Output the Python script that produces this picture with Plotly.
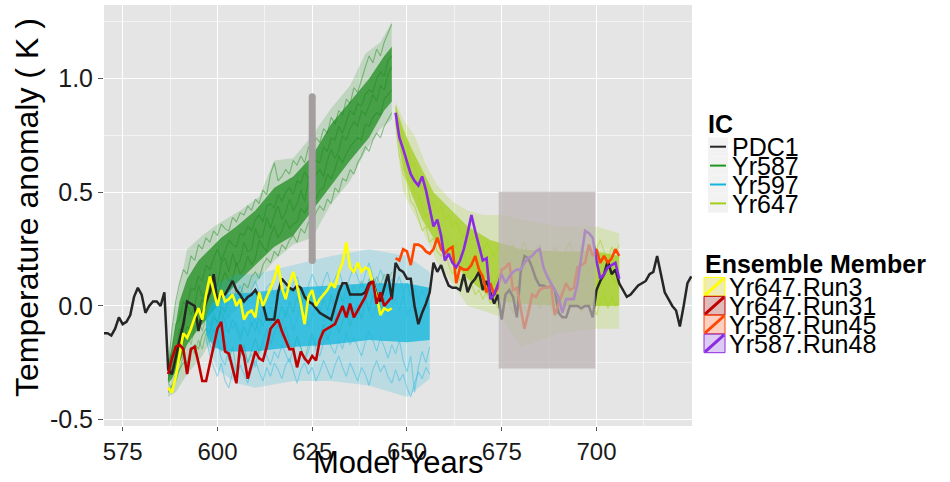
import plotly.graph_objects as go

# ------------------------------------------------------------------ data
ic_names = ["PDC1", "Yr587", "Yr597", "Yr647"]
ic_colors = ["#262626", "#1f951f", "#12b6dc", "#a3cf1c"]
member_names = ["Yr647.Run3", "Yr647.Run31", "Yr587.Run45", "Yr587.Run48"]
member_colors = ["#ffff00", "#c00000", "#ff4500", "#8a2be2"]
member_fills = ["rgba(235,232,170,0.85)", "rgba(205,140,140,0.6)",
                "rgba(250,160,130,0.5)", "rgba(180,140,230,0.45)"]
x_ticks = [575, 600, 625, 650, 675, 700]
y_ticks = [-0.5, 0.0, 0.5, 1.0]
y_tick_text = ["-0.5", "0.0", "0.5", "1.0"]

# control run, annual from 570
pdc1_start = 570
pdc1 = [-0.12, -0.12, -0.13, -0.10, -0.05, -0.08, -0.07, -0.04, 0.04, 0.08,
        0.05, -0.03, 0.00, 0.02, 0.02, 0.00, 0.06, -0.28, -0.30, -0.22,
        -0.15, -0.08, 0.02, 0.01, 0.00, -0.11, -0.03, 0.02, 0.06, 0.14,
        0.02, 0.05, 0.05, 0.08, 0.11, 0.07, 0.05, 0.02, 0.04, 0.05,
        0.07, 0.04, 0.01, -0.06, -0.06, -0.06, 0.06, 0.12, 0.10, 0.08,
        0.07, 0.09, 0.08, 0.04, 0.02, 0.01, -0.01, -0.03, -0.04, -0.05,
        -0.06, 0.00, 0.06, 0.10, 0.10, 0.05, 0.05, 0.05, 0.05, 0.06,
        0.10, 0.11, 0.05, 0.02, 0.08, 0.14, 0.03, 0.19, 0.16, 0.15,
        0.12, 0.12, 0.00, -0.08, -0.03, 0.01, 0.06, 0.19, 0.15, 0.18,
        0.13, 0.09, 0.08, 0.08, 0.07, 0.14, 0.06, 0.10, 0.12, 0.15,
        0.07, 0.11, 0.06, 0.01, 0.05, -0.06, 0.05, 0.07, 0.04, -0.05,
        0.15, 0.22, 0.21, 0.17, 0.12, 0.09, 0.09, 0.08, 0.09, 0.07,
        -0.03, -0.05, -0.05, 0.00, 0.00, 0.00, -0.01, 0.00, 0.00, -0.05,
        0.07, 0.11, 0.14, 0.20, 0.14, 0.16, 0.10, 0.07, 0.04, 0.05,
        0.07, 0.09, 0.10, 0.11, 0.14, 0.15, 0.22, 0.14, 0.06, 0.03,
        0.00, -0.02, -0.09, 0.00, 0.10, 0.13]

# highlighted ensemble members
run3_start = 587
run3 = [-0.36, -0.38, -0.31, -0.22, -0.12, -0.14, -0.10, -0.05, -0.01, -0.06,
        0.05, 0.13, 0.06, 0.00, 0.07, 0.02, 0.03, 0.05, 0.00, 0.03,
        -0.06, -0.03, -0.02, -0.05, 0.06, 0.00, 0.04, 0.08, 0.12, 0.18,
        0.08, 0.03, 0.10, 0.15, 0.09, 0.01, -0.08, 0.04, 0.07, 0.00,
        0.03, 0.05, 0.07, 0.10, 0.08, 0.15, 0.19, 0.28, 0.17, 0.15,
        0.19, 0.15, 0.17, 0.16, 0.10, 0.04, -0.04, -0.01, -0.02, -0.01]
run31_start = 587
run31 = [-0.30, -0.23, -0.18, -0.17, -0.19, -0.30, -0.19, -0.18, -0.25, -0.33,
         -0.33, -0.25, -0.18, -0.10, -0.07, -0.20, -0.21, -0.27, -0.34, -0.17,
         -0.22, -0.32, -0.26, -0.20, -0.23, -0.24, -0.18, -0.10, -0.08, -0.06,
         -0.11, -0.15, -0.19, -0.19, -0.27, -0.20, -0.23, -0.25, -0.22, -0.24,
         -0.15, -0.11, -0.10, -0.09, -0.08, -0.04, 0.00, -0.05, 0.01, -0.05,
         -0.02, 0.01, 0.04, 0.09, 0.11, 0.01, 0.06, 0.00, 0.02, 0.04]
run45_start = 647
run45 = [0.21, 0.20, 0.25, 0.24, 0.18, 0.27, 0.27, 0.26, 0.24, 0.23,
         0.25, 0.30, 0.25, 0.23, 0.25, 0.26, 0.10, 0.17, 0.16, 0.16,
         0.18, 0.22, 0.16, 0.13, 0.06, 0.10, 0.05, 0.08, 0.16, 0.17,
         0.19, 0.07, 0.08, -0.02, -0.10, -0.03, 0.05, 0.04, 0.07, 0.08,
         0.08, 0.09, -0.04, 0.01, 0.06, 0.10, 0.07, 0.08, 0.17, 0.18,
         0.19, 0.27, 0.22, 0.25, 0.19, 0.22, 0.19, 0.21, 0.25, 0.22]
run48_start = 647
run48 = [0.85, 0.74, 0.69, 0.63, 0.58, 0.55, 0.53, 0.57, 0.51, 0.43,
         0.35, 0.38, 0.31, 0.20, 0.23, 0.19, 0.17, 0.20, 0.25, 0.32,
         0.40, 0.33, 0.27, 0.20, 0.21, 0.03, 0.05, 0.10, 0.14, 0.10,
         0.13, 0.15, 0.16, 0.16, 0.19, 0.21, 0.22, 0.24, 0.25, 0.17,
         0.13, 0.10, 0.07, 0.04, -0.03, 0.03, 0.03, 0.03, 0.10, 0.22,
         0.33, 0.32, 0.30, 0.20, 0.12, 0.14, 0.17, 0.18, 0.19, 0.12]

# Yr587 ensemble: spread (outer / dense core) and individual members
g_core_years = [587, 588, 590, 592, 595, 598, 601, 605, 610, 615, 620, 625, 630, 635, 640, 644, 646]
g_core_lo = [-0.34, -0.32, -0.25, -0.17, -0.10, -0.04, 0.02, 0.10, 0.18, 0.26, 0.31, 0.42, 0.53, 0.64, 0.74, 0.86, 0.90]
g_core_hi = [-0.26, -0.18, 0.02, 0.12, 0.20, 0.25, 0.30, 0.35, 0.42, 0.52, 0.57, 0.66, 0.80, 0.90, 1.00, 1.10, 1.14]
g_out_years = [587, 589, 592, 596, 600, 606, 611, 615, 620, 625, 630, 635, 639, 643, 646]
g_out_lo = [-0.40, -0.38, -0.30, -0.22, -0.10, 0.00, 0.12, 0.20, 0.27, 0.30, 0.45, 0.55, 0.68, 0.78, 0.82]
g_out_hi = [-0.22, 0.00, 0.25, 0.31, 0.36, 0.42, 0.48, 0.64, 0.65, 0.75, 0.87, 0.97, 1.11, 1.16, 1.25]
g_start = 587
g_members = [
    [-0.31, -0.29, -0.26, -0.17, -0.16, -0.09, -0.11, -0.03, -0.02, 0.03,
     -0.01, 0.06, 0.08, 0.04, 0.10, 0.15, 0.11, 0.12, 0.19, 0.14,
     0.16, 0.22, 0.18, 0.21, 0.29, 0.26, 0.24, 0.31, 0.35, 0.30,
     0.33, 0.38, 0.34, 0.36, 0.37, 0.43, 0.41, 0.44, 0.50, 0.47,
     0.51, 0.52, 0.58, 0.56, 0.60, 0.66, 0.63, 0.67, 0.70, 0.72,
     0.74, 0.73, 0.80, 0.79, 0.83, 0.85, 0.84, 0.91, 0.93, 0.95],
    [-0.27, -0.19, -0.08, -0.06, 0.02, 0.00, 0.08, 0.07, 0.13, 0.11,
     0.18, 0.16, 0.21, 0.25, 0.20, 0.24, 0.29, 0.27, 0.26, 0.32,
     0.31, 0.35, 0.33, 0.38, 0.40, 0.37, 0.44, 0.45, 0.43, 0.49,
     0.46, 0.50, 0.52, 0.49, 0.55, 0.54, 0.59, 0.56, 0.62, 0.64,
     0.63, 0.70, 0.68, 0.74, 0.73, 0.79, 0.76, 0.81, 0.86, 0.84,
     0.89, 0.88, 0.93, 0.95, 0.94, 1.00, 1.03, 1.01, 1.08, 1.10],
    [-0.33, -0.22, -0.21, -0.10, -0.12, 0.01, -0.04, 0.00, 0.09, 0.04,
     0.06, 0.14, 0.10, 0.09, 0.19, 0.21, 0.15, 0.23, 0.18, 0.20,
     0.28, 0.24, 0.25, 0.34, 0.30, 0.31, 0.39, 0.34, 0.40, 0.44,
     0.38, 0.41, 0.47, 0.42, 0.45, 0.51, 0.46, 0.55, 0.52, 0.58,
     0.60, 0.57, 0.64, 0.69, 0.65, 0.68, 0.75, 0.73, 0.78, 0.81,
     0.79, 0.86, 0.84, 0.88, 0.93, 0.90, 0.97, 0.95, 1.02, 1.05],
    [-0.28, -0.10, 0.02, 0.10, 0.16, 0.14, 0.22, 0.20, 0.27, 0.25,
     0.30, 0.28, 0.33, 0.31, 0.36, 0.34, 0.33, 0.39, 0.37, 0.41,
     0.40, 0.44, 0.42, 0.47, 0.45, 0.51, 0.49, 0.58, 0.63, 0.55,
     0.57, 0.60, 0.58, 0.64, 0.62, 0.66, 0.63, 0.70, 0.68, 0.74,
     0.72, 0.78, 0.76, 0.83, 0.80, 0.86, 0.84, 0.91, 0.89, 0.96,
     0.94, 1.00, 1.05, 1.10, 1.07, 1.13, 1.10, 1.16, 1.20, 1.24],
    [-0.38, -0.35, -0.33, -0.28, -0.25, -0.26, -0.20, -0.17, -0.19, -0.13,
     -0.10, -0.12, -0.05, -0.07, 0.00, -0.03, 0.04, 0.02, 0.07, 0.05,
     0.10, 0.08, 0.13, 0.15, 0.12, 0.18, 0.21, 0.19, 0.24, 0.22,
     0.27, 0.25, 0.29, 0.31, 0.28, 0.34, 0.32, 0.37, 0.35, 0.41,
     0.44, 0.42, 0.47, 0.45, 0.52, 0.50, 0.56, 0.55, 0.60, 0.58,
     0.63, 0.66, 0.70, 0.68, 0.73, 0.76, 0.74, 0.79, 0.82, 0.85],
]
g_low_members = [
    [-0.34, -0.36, -0.30, -0.28, -0.22, -0.25, -0.18, -0.21, -0.15, -0.19,
     -0.12, -0.16, -0.10, -0.14, -0.20, -0.15, -0.24, -0.18, -0.28, -0.22,
     -0.17, -0.25, -0.20, -0.14, -0.21, -0.16, -0.10, -0.17, -0.12, -0.08,
     -0.14, -0.09, -0.16, -0.20, -0.13, -0.19, -0.24, -0.17, -0.12, -0.18,
     -0.13, -0.08, -0.15, -0.10, -0.05, -0.12, -0.07, -0.02, -0.09, -0.04,
     0.01, -0.06, 0.03, -0.02, 0.05, 0.00, 0.07, 0.02, 0.09, 0.05],
    [-0.32, -0.28, -0.24, -0.20, -0.16, -0.12, -0.17, -0.10, -0.06, -0.11,
     -0.05, -0.09, -0.03, -0.08, -0.02, -0.07, -0.12, -0.06, -0.10, -0.15,
     -0.09, -0.13, -0.07, -0.11, -0.05, -0.09, -0.03, -0.08, -0.02, -0.06,
     0.00, -0.05, 0.02, -0.03, 0.04, -0.01, 0.05, 0.01, 0.07, 0.02,
     -0.04, 0.03, -0.02, 0.05, 0.00, 0.06, 0.02, 0.08, 0.03, 0.09,
     0.05, 0.11, 0.06, 0.12, 0.08, 0.13, 0.09, 0.14, 0.10, 0.15],
]

# Yr597 ensemble
c_core_years = [597, 599, 602, 610, 620, 630, 640, 650, 656]
c_core_lo = [-0.12, -0.18, -0.20, -0.20, -0.18, -0.17, -0.15, -0.16, -0.15]
c_core_hi = [-0.05, 0.02, 0.05, 0.06, 0.08, 0.09, 0.10, 0.10, 0.08]
c_out_years = [597, 600, 605, 610, 620, 630, 640, 650, 656]
c_out_lo = [-0.16, -0.28, -0.34, -0.36, -0.33, -0.33, -0.35, -0.40, -0.32]
c_out_hi = [0.00, 0.10, 0.14, 0.14, 0.18, 0.22, 0.25, 0.22, 0.15]
c_start = 597
c_members = [
    [-0.08, -0.13, -0.06, -0.09, -0.16, -0.11, -0.04, -0.10, -0.07, -0.13,
     -0.05, -0.02, -0.09, -0.06, -0.12, -0.03, -0.07, 0.00, -0.05, -0.10,
     -0.08, -0.02, -0.04, -0.11, -0.06, 0.01, -0.03, -0.09, -0.05, 0.02,
     -0.01, -0.07, -0.04, 0.03, -0.02, -0.06, 0.00, 0.05, -0.03, -0.01,
     -0.06, 0.02, 0.04, -0.02, -0.05, 0.01, 0.06, 0.02, -0.04, 0.00,
     0.03, -0.02, 0.05, -0.04, -0.01, 0.02, -0.07, -0.03, 0.01, -0.02],
    [-0.10, -0.17, -0.20, -0.15, -0.23, -0.26, -0.19, -0.24, -0.30, -0.22,
     -0.18, -0.25, -0.21, -0.27, -0.19, -0.16, -0.22, -0.26, -0.20, -0.23,
     -0.17, -0.21, -0.25, -0.19, -0.15, -0.18, -0.24, -0.20, -0.14, -0.19,
     -0.22, -0.16, -0.13, -0.18, -0.21, -0.15, -0.19, -0.12, -0.17, -0.14,
     -0.18, -0.22, -0.16, -0.11, -0.15, -0.20, -0.14, -0.18, -0.23, -0.17,
     -0.21, -0.15, -0.24, -0.29, -0.22, -0.38, -0.27, -0.20, -0.25, -0.18],
    [-0.06, -0.01, 0.02, -0.03, 0.05, 0.03, 0.08, 0.01, 0.04, 0.09,
     0.05, 0.02, 0.07, 0.11, 0.06, 0.03, 0.08, 0.10, 0.04, 0.07,
     0.12, 0.08, 0.05, 0.10, 0.13, 0.07, 0.04, 0.09, 0.14, 0.10,
     0.06, 0.11, 0.15, 0.09, 0.12, 0.16, 0.10, 0.07, 0.13, 0.17,
     0.12, 0.08, 0.14, 0.19, 0.13, 0.10, 0.16, 0.11, 0.07, 0.12,
     0.09, 0.13, 0.06, 0.10, 0.04, 0.08, 0.02, 0.07, 0.03, 0.05],
    [-0.14, -0.22, -0.27, -0.31, -0.25, -0.33, -0.36, -0.29, -0.32, -0.26,
     -0.30, -0.34, -0.28, -0.24, -0.29, -0.33, -0.27, -0.31, -0.25, -0.28,
     -0.32, -0.26, -0.23, -0.29, -0.34, -0.28, -0.25, -0.30, -0.27, -0.33,
     -0.29, -0.24, -0.28, -0.32, -0.26, -0.22, -0.27, -0.31, -0.25, -0.29,
     -0.33, -0.27, -0.30, -0.35, -0.28, -0.24, -0.29, -0.26, -0.31, -0.34,
     -0.28, -0.33, -0.30, -0.36, -0.40, -0.34, -0.29, -0.32, -0.27, -0.30],
]

# Yr647 ensemble
l_core_years = [647, 649, 651, 654, 657, 660, 663, 666, 669, 672, 676, 680, 690, 700, 706]
l_core_lo = [0.80, 0.60, 0.50, 0.38, 0.30, 0.24, 0.18, 0.12, 0.08, 0.04, 0.02, 0.01, 0.00, 0.00, 0.00]
l_core_hi = [0.88, 0.78, 0.70, 0.60, 0.50, 0.45, 0.40, 0.35, 0.32, 0.29, 0.27, 0.25, 0.24, 0.24, 0.22]
l_out_years = [647, 649, 652, 655, 658, 662, 666, 670, 675, 680, 690, 700, 706]
l_out_lo = [0.76, 0.50, 0.40, 0.30, 0.19, 0.10, 0.00, -0.02, -0.05, -0.18, -0.12, -0.10, -0.10]
l_out_hi = [0.90, 0.82, 0.75, 0.62, 0.53, 0.46, 0.42, 0.40, 0.40, 0.38, 0.35, 0.35, 0.32]
l_start = 647
l_members = [
    [0.81, 0.66, 0.58, 0.55, 0.46, 0.44, 0.39, 0.33, 0.35, 0.28,
     0.30, 0.24, 0.22, 0.25, 0.18, 0.14, 0.17, 0.11, 0.13, 0.08,
     0.10, 0.05, 0.07, 0.03, 0.06, 0.01, 0.04, -0.01, 0.02, 0.06,
     0.01, -0.03, 0.03, 0.07, 0.00, -0.05, 0.02, 0.05, -0.01, 0.03,
     0.06, 0.00, -0.04, 0.02, 0.05, -0.02, 0.01, 0.06, 0.02, -0.03,
     0.03, 0.07, 0.01, -0.04, 0.02, 0.05, -0.01, 0.04, 0.00, 0.03],
    [0.88, 0.81, 0.73, 0.71, 0.62, 0.63, 0.55, 0.51, 0.53, 0.46,
     0.45, 0.41, 0.44, 0.38, 0.40, 0.35, 0.37, 0.33, 0.30, 0.34,
     0.29, 0.31, 0.27, 0.24, 0.28, 0.25, 0.22, 0.26, 0.23, 0.20,
     0.25, 0.27, 0.21, 0.24, 0.28, 0.22, 0.19, 0.25, 0.27, 0.21,
     0.24, 0.20, 0.26, 0.23, 0.19, 0.25, 0.28, 0.22, 0.20, 0.26,
     0.23, 0.27, 0.21, 0.25, 0.29, 0.24, 0.20, 0.26, 0.23, 0.27],
    [0.84, 0.73, 0.69, 0.61, 0.57, 0.50, 0.49, 0.44, 0.39, 0.41,
     0.36, 0.34, 0.29, 0.31, 0.27, 0.24, 0.28, 0.21, 0.23, 0.17,
     0.20, 0.15, 0.18, 0.12, 0.16, 0.13, 0.09, 0.14, 0.11, 0.15,
     0.12, 0.16, 0.10, 0.13, 0.17, 0.11, 0.08, 0.14, 0.12, 0.09,
     0.15, 0.11, 0.13, 0.17, 0.10, 0.08, 0.14, 0.12, 0.16, 0.10,
     0.13, 0.17, 0.11, 0.09, 0.15, 0.12, 0.18, 0.13, 0.10, 0.14],
]

# annotations in data space
bar_year = 625
bar_range = [0.2, 0.92]
box_years = [674.2, 699.7]
box_range = [-0.275, 0.503]

# ------------------------------------------------------------------ figure
FONT = "Liberation Sans, Arial, Helvetica, sans-serif"
W, H = 950, 482
ML, MR, MT, MB = 104, 258, 5, 56
PW, PH = W - ML - MR, H - MT - MB


def px_x(p):
    return (p - ML) / PW


def px_y(p):
    return (H - MB - p) / PH


def yrs(start, vals):
    return list(range(start, start + len(vals)))


def band(years, lo, hi, color):
    return go.Scatter(x=list(years) + list(years)[::-1], y=list(hi) + list(lo)[::-1],
                      fill="toself", fillcolor=color, mode="lines",
                      line=dict(width=0, color=color), hoverinfo="skip", showlegend=False)


def line(x, y, color, width):
    return go.Scatter(x=x, y=y, mode="lines", line=dict(color=color, width=width),
                      hoverinfo="skip", showlegend=False)


fig = go.Figure()

# Yr587 ensemble
for m in g_low_members:
    fig.add_trace(line(yrs(g_start, m), m, "rgba(40,150,40,0.35)", 1.1))
fig.add_trace(band(g_out_years, g_out_lo, g_out_hi, "rgba(40,150,40,0.2)"))
fig.add_trace(band(g_core_years, g_core_lo, g_core_hi, "rgba(25,140,25,0.72)"))
for m in g_members:
    fig.add_trace(line(yrs(g_start, m), m, "rgba(25,135,25,0.45)", 1.1))

# Yr597 ensemble
fig.add_trace(band(c_out_years, c_out_lo, c_out_hi, "rgba(20,180,220,0.2)"))
fig.add_trace(band(c_core_years, c_core_lo, c_core_hi, "rgba(10,180,220,0.72)"))
for m in c_members:
    fig.add_trace(line(yrs(c_start, m), m, "rgba(30,185,225,0.45)", 1.1))

# Yr647 ensemble
fig.add_trace(band(l_out_years, l_out_lo, l_out_hi, "rgba(165,208,30,0.22)"))
fig.add_trace(band(l_core_years, l_core_lo, l_core_hi, "rgba(160,205,20,0.7)"))
for m in l_members:
    fig.add_trace(line(yrs(l_start, m), m, "rgba(165,210,30,0.55)", 1.1))

# control
fig.add_trace(line(yrs(pdc1_start, pdc1), pdc1, "#262626", 2.5))

# highlighted members
for start, vals, col in [(run3_start, run3, member_colors[0]),
                         (run31_start, run31, member_colors[1]),
                         (run45_start, run45, member_colors[2]),
                         (run48_start, run48, member_colors[3])]:
    fig.add_trace(line(yrs(start, vals), vals, col, 2.6))

# grey vertical bar with round ends
fig.add_trace(go.Scatter(x=[bar_year, bar_year], y=bar_range, mode="lines+markers",
                         line=dict(color="#a59e9e", width=7),
                         marker=dict(color="#a59e9e", size=7),
                         hoverinfo="skip", showlegend=False))

shapes = [dict(type="rect", xref="x", yref="y", x0=box_years[0], x1=box_years[1],
               y0=box_range[0], y1=box_range[1], layer="above",
               fillcolor="rgba(186,178,178,0.72)", line=dict(width=0))]
annotations = []

# ---------------- manual legend: IC
annotations.append(dict(text="<b>IC</b>", x=px_x(707), y=px_y(123.5), xref="paper", yref="paper",
                        xanchor="left", yanchor="middle", showarrow=False, borderpad=0,
                        font=dict(size=25, color="black", family=FONT)))
row0, step = 146.7, 18.9
for i, (name, col) in enumerate(zip(ic_names, ic_colors)):
    yc = row0 + i * step
    shapes.append(dict(type="rect", xref="paper", yref="paper",
                       x0=px_x(708), x1=px_x(728), y0=px_y(yc + 9.3), y1=px_y(yc - 9.3),
                       fillcolor="#f2f2f2", line=dict(width=0)))
    shapes.append(dict(type="line", xref="paper", yref="paper",
                       x0=px_x(710), x1=px_x(726), y0=px_y(yc), y1=px_y(yc),
                       line=dict(color=col, width=2)))
    annotations.append(dict(text=name, x=px_x(731), y=px_y(yc + 0.5), xref="paper", yref="paper",
                            xanchor="left", yanchor="middle", showarrow=False, borderpad=0,
                            font=dict(size=25, color="black", family=FONT)))

# ---------------- manual legend: Ensemble Member
annotations.append(dict(text="<b>Ensemble Member</b>", x=px_x(704), y=px_y(263.5),
                        xref="paper", yref="paper", xanchor="left", yanchor="middle",
                        showarrow=False, borderpad=0,
                        font=dict(size=25, color="black", family=FONT)))
row0 = 286.7
for i, (name, col, fcol) in enumerate(zip(member_names, member_colors, member_fills)):
    yc = row0 + i * step
    shapes.append(dict(type="rect", xref="paper", yref="paper",
                       x0=px_x(704), x1=px_x(725), y0=px_y(yc + 9.3), y1=px_y(yc - 9.3),
                       fillcolor=fcol, line=dict(color=col, width=1)))
    shapes.append(dict(type="line", xref="paper", yref="paper",
                       x0=px_x(705), x1=px_x(724), y0=px_y(yc + 8.5), y1=px_y(yc - 8.5),
                       line=dict(color=col, width=3)))
    annotations.append(dict(text=name, x=px_x(728), y=px_y(yc + 0.5), xref="paper", yref="paper",
                            xanchor="left", yanchor="middle", showarrow=False, borderpad=0,
                            font=dict(size=25, color="black", family=FONT)))

# axis titles
annotations.append(dict(text="Model Years", x=0.5, y=px_y(481), xref="paper", yref="paper",
                        xanchor="center", yanchor="bottom", showarrow=False, borderpad=0,
                        font=dict(size=31, color="black", family=FONT)))
annotations.append(dict(text="Temperature anomaly ( K )", x=px_x(27), y=px_y(208),
                        xref="paper", yref="paper", xanchor="center", yanchor="middle",
                        textangle=-90, showarrow=False, borderpad=0,
                        font=dict(size=32, color="black", family=FONT)))

fig.update_layout(
    width=W, height=H,
    margin=dict(l=ML, r=MR, t=MT, b=MB, pad=0),
    paper_bgcolor="white", plot_bgcolor="#e5e5e5",
    font=dict(family=FONT, color="#1a1a1a"),
    showlegend=False,
    shapes=shapes, annotations=annotations,
    xaxis=dict(range=[570.07, 725.2], tickmode="array", tickvals=x_ticks,
               ticktext=[str(t) for t in x_ticks],
               showgrid=True, gridcolor="white", gridwidth=1.3,
               minor=dict(tickvals=[t + 12.5 for t in x_ticks], showgrid=True,
                          gridcolor="#f3f3f3", gridwidth=0.6),
               ticks="outside", ticklen=4, tickcolor="#555555", tickwidth=1,
               tickfont=dict(size=24, color="#1a1a1a"), zeroline=False, showline=False,
               automargin=False),
    yaxis=dict(range=[-0.528, 1.324], tickmode="array", tickvals=y_ticks,
               ticktext=y_tick_text,
               showgrid=True, gridcolor="white", gridwidth=1.3,
               minor=dict(tickvals=[t + 0.25 for t in y_ticks], showgrid=True,
                          gridcolor="#f3f3f3", gridwidth=0.6),
               ticks="outside", ticklen=5, tickcolor="#555555", tickwidth=1,
               tickfont=dict(size=25, color="#1a1a1a"), zeroline=False, showline=False,
               automargin=False),
)

fig.write_html("out.html")
